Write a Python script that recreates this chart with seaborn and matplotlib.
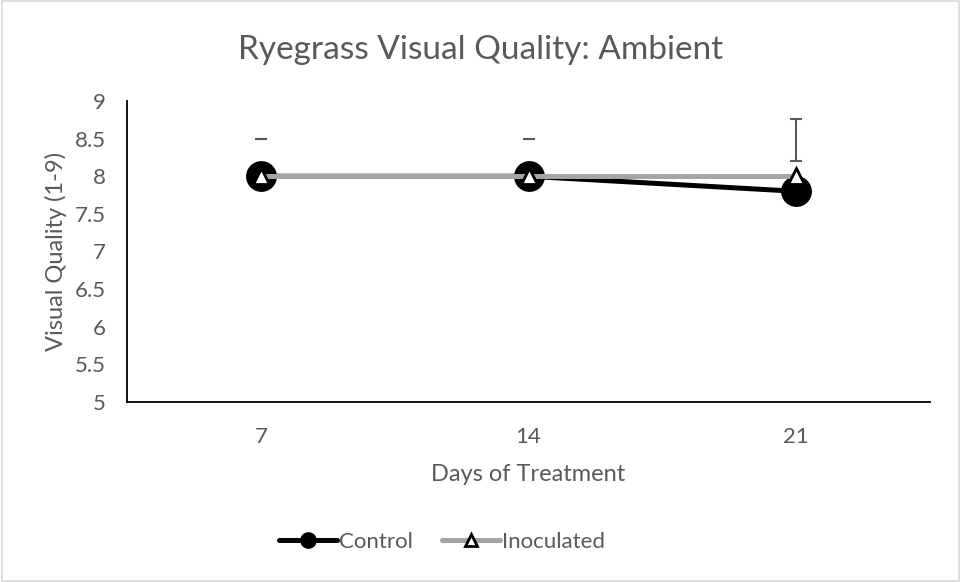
import pandas as pd
import numpy as np
import seaborn as sns
import matplotlib.pyplot as plt
from matplotlib.lines import Line2D

# Data
days = ["7", "14", "21"]
control = [8.0, 8.0, 7.8]
inoculated = [8.0, 8.0, 8.0]
# error bar extent (low, high) drawn above the points
err_low = [8.5, 8.5, 8.2]
err_high = [8.5, 8.5, 8.76]

df = pd.DataFrame({"Days": days * 2,
                   "Value": control + inoculated,
                   "Series": ["Control"] * 3 + ["Inoculated"] * 3})

sns.set_style("white")
plt.rcParams['font.family'] = ['Lato', 'DejaVu Sans']
txt_col = "#595959"

fig = plt.figure(figsize=(9.61, 5.82), dpi=100)
ax = fig.add_axes([127/961, 1 - 402/582, (930 - 127)/961, (402 - 101)/582])

# Control line (black, circles)
sns.pointplot(data=df[df.Series == "Control"], x="Days", y="Value", order=days,
              color="black", marker="o", markersize=19.5, linewidth=3.6,
              errorbar=None, ax=ax)
# Inoculated line (grey, open triangles)
sns.pointplot(data=df[df.Series == "Inoculated"], x="Days", y="Value", order=days,
              color="#A5A5A5", marker="^", markersize=0, linewidth=3.6,
              errorbar=None, ax=ax)
ax.plot(range(len(days)), inoculated, linestyle="none", marker="^",
        markersize=12, markerfacecolor="white", markeredgecolor="black",
        markeredgewidth=2, zorder=5)

# error bars
mid = (np.array(err_low) + np.array(err_high)) / 2
half = (np.array(err_high) - np.array(err_low)) / 2
ax.errorbar(x=range(len(days)), y=mid, yerr=half, fmt="none",
            ecolor=txt_col, elinewidth=1.5, capsize=4.5, capthick=1.5, zorder=6)

ax.set_xlim(-0.5, 2.5)
ax.set_ylim(5, 9)
ax.set_yticks(np.arange(5, 9.01, 0.5))
ax.set_yticklabels(["5", "5.5", "6", "6.5", "7", "7.5", "8", "8.5", "9"])
ax.tick_params(axis="both", length=0, labelsize=16, colors=txt_col)
ax.tick_params(axis="y", pad=15)
ax.tick_params(axis="x", pad=18)
for s in ["top", "right"]:
    ax.spines[s].set_visible(False)
for s in ["left", "bottom"]:
    ax.spines[s].set_color("black")
    ax.spines[s].set_linewidth(1.3)

ax.set_xlabel("Days of Treatment", fontsize=17, color=txt_col, labelpad=12)
ax.set_ylabel("Visual Quality (1-9)", fontsize=17, color=txt_col, labelpad=6)
fig.text(0.5, 1 - 50/582, "Ryegrass Visual Quality: Ambient", ha="center",
         va="center", fontsize=24, color=txt_col)

handles = [Line2D([], [], color="black", linewidth=3.6, marker="o", markersize=11),
           Line2D([], [], color="#A5A5A5", linewidth=3.6, marker="^", markersize=8,
                  markerfacecolor="white", markeredgecolor="black", markeredgewidth=2)]
leg = fig.legend(handles, ["Control", "Inoculated"], loc="center",
                 bbox_to_anchor=(0.46, 1 - 542/582), ncol=2, frameon=False,
                 fontsize=16, handlelength=2.6, handletextpad=0.1, columnspacing=1.3)
for t in leg.get_texts():
    t.set_color(txt_col)

fig.patches.append(plt.Rectangle((0.002, 0.002), 0.996, 0.996, transform=fig.transFigure,
                                 fill=False, edgecolor="#D9D9D9", linewidth=1.2))

fig.savefig("out.png", dpi=100)
